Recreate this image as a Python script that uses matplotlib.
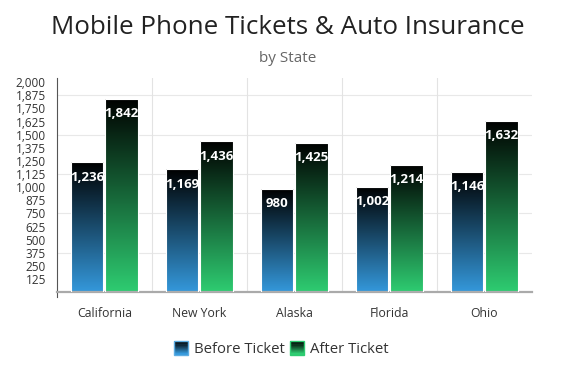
import numpy as np
import matplotlib.pyplot as plt
from matplotlib.patches import Rectangle
from matplotlib.legend_handler import HandlerBase
from matplotlib.colors import LinearSegmentedColormap

plt.rcParams['font.family'] = ['Open Sans', 'DejaVu Sans']

# Data
states = ["California", "New York", "Alaska", "Florida", "Ohio"]
before = [1236, 1169, 980, 1002, 1146]
after = [1842, 1436, 1425, 1214, 1632]
series_names = ["Before Ticket", "After Ticket"]
yticks = list(range(125, 2001, 125))

blue_cmap = LinearSegmentedColormap.from_list("b", ["#3498db", "#000000"])
green_cmap = LinearSegmentedColormap.from_list("g", ["#2ecc71", "#000000"])

fig = plt.figure(figsize=(5.75, 3.75), dpi=100)
ax = fig.add_axes([0.099, 0.221, 0.826, 0.571])

x = np.arange(len(states))
w = 0.34
grad = np.linspace(0, 1, 256).reshape(-1, 1)


def gradient_bars(xs, vals, cmap):
    bars = ax.bar(xs, vals, w, color='none', edgecolor='white', linewidth=0.8, zorder=3)
    for b in bars:
        x0, y0 = b.get_x(), b.get_y()
        im = ax.imshow(grad, cmap=cmap, aspect='auto', origin='lower',
                       extent=[x0, x0 + b.get_width(), y0, y0 + b.get_height()], zorder=2)
        im.set_clip_path(b)
        ax.text(b.get_x() + b.get_width() / 2, b.get_height() - 140, f"{b.get_height():,.0f}",
                ha='center', va='center', color='white', fontsize=9.5, fontweight='bold', zorder=4)
    return bars


gradient_bars(x - w / 2 - 0.01, before, blue_cmap)
gradient_bars(x + w / 2 + 0.01, after, green_cmap)

ax.set_xlim(-0.5, len(states) - 0.5)
ax.set_ylim(0, 2040)
ax.set_yticks(yticks)
ax.set_yticklabels([f"{v:,}" for v in yticks], fontsize=8.5, color='#333333')
ax.set_xticks(x)
ax.set_xticklabels(states, fontsize=8.8, color='#333333')
ax.tick_params(axis='x', length=0, pad=11)
ax.tick_params(axis='y', length=0, pad=8)

for v in range(375, 2001, 375):
    ax.axhline(v, color='#e8e8e8', lw=0.8, zorder=1)
for xv in np.arange(0.5, len(states) - 0.5, 1):
    ax.axvline(xv, color='#e3e3e3', lw=0.8, zorder=1)

for s in ['top', 'right']:
    ax.spines[s].set_visible(False)
ax.spines['bottom'].set_color('#aaaaaa')
ax.spines['bottom'].set_linewidth(1.6)
ax.spines['left'].set_color('#555555')
ax.spines['left'].set_linewidth(0.8)
ax.plot([0, 0], [0, -0.025], transform=ax.transAxes, color='#555555', lw=0.8, clip_on=False)

fig.text(0.5, 0.928, "Mobile Phone Tickets & Auto Insurance", ha='center', va='center',
         fontsize=18.7, color='#222222')
fig.text(0.5, 0.843, "by State", ha='center', va='center', fontsize=11, color='#666666')


class GradHandler(HandlerBase):
    def __init__(self, c_bottom, edge):
        super().__init__()
        self.c_bottom = c_bottom
        self.edge = edge

    def create_artists(self, legend, orig, xd, yd, width, height, fontsize, trans):
        size = height * 1.3
        x0 = xd + (width - size) / 2
        y0 = yd + (height - size) / 2
        cmap = LinearSegmentedColormap.from_list("h", [self.c_bottom, "#000000"])
        arts = []
        n = 12
        for i in range(n):
            arts.append(Rectangle((x0, y0 + size * i / n), size, size / n + 0.1,
                                  facecolor=cmap(i / (n - 1)), edgecolor='none', transform=trans))
        arts.append(Rectangle((x0, y0), size, size, facecolor='none', edgecolor=self.edge,
                              lw=1, transform=trans))
        return arts


h1 = Rectangle((0, 0), 1, 1)
h2 = Rectangle((0, 0), 1, 1)
fig.legend([h1, h2], series_names, loc='center', bbox_to_anchor=(0.489, 0.068), ncol=2,
           frameon=False, fontsize=10.7, handlelength=1.0, handletextpad=0.4, columnspacing=0.3,
           handler_map={h1: GradHandler("#3498db", "#5dade2"), h2: GradHandler("#2ecc71", "#2ecc71")},
           labelcolor='#333333')

fig.savefig("out.png", dpi=100)
